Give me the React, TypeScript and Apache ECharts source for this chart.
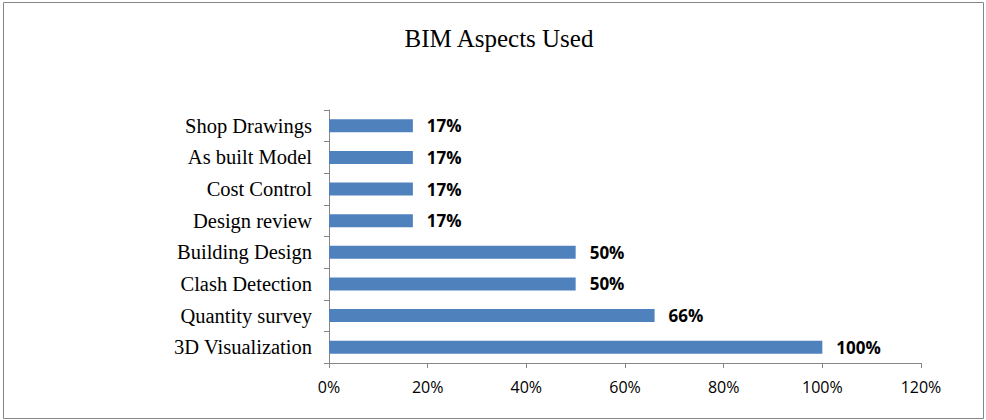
import React, { useEffect, useRef } from "react";
import * as echarts from "echarts";

const categories = [
  "3D Visualization",
  "Quantity survey",
  "Clash Detection",
  "Building Design",
  "Design review",
  "Cost Control",
  "As built Model",
  "Shop Drawings",
];
const values = [100, 66, 50, 50, 17, 17, 17, 17];
const xTicks = { min: 0, max: 120, interval: 20 };

export default function App() {
  const ref = useRef<HTMLDivElement>(null);
  useEffect(() => {
    if (!ref.current) return;
    const chart = echarts.init(ref.current, null, { renderer: "svg" });
    chart.setOption({
      animation: false,
      backgroundColor: "#ffffff",
      title: {
        text: "BIM Aspects Used",
        left: 494,
        textAlign: "center",
        top: 21,
        textStyle: {
          fontFamily: "Liberation Serif",
          fontSize: 25,
          fontWeight: "normal",
          color: "#000",
        },
      },
      graphic: [
        {
          type: "rect",
          shape: { x: 3.5, y: 2.5, width: 980, height: 416 },
          style: { fill: "none", stroke: "#868686", lineWidth: 1 },
          silent: true,
        },
      ],
      grid: { left: 329, right: 65, top: 110, bottom: 57 },
      xAxis: {
        type: "value",
        min: xTicks.min,
        max: xTicks.max,
        interval: xTicks.interval,
        axisLine: { show: true, lineStyle: { color: "#868686" } },
        axisTick: { show: true, length: 5, lineStyle: { color: "#868686" } },
        splitLine: { show: false },
        axisLabel: {
          formatter: "{value}%",
          fontFamily: "Open Sans",
          fontSize: 16,
          color: "#000",
          margin: 16,
        },
      },
      yAxis: {
        type: "category",
        data: categories,
        axisLine: { show: true, lineStyle: { color: "#868686" } },
        axisTick: { show: true, length: 5, lineStyle: { color: "#868686" } },
        axisLabel: {
          fontFamily: "Liberation Serif",
          fontSize: 20.5,
          color: "#000",
          margin: 17,
        },
      },
      series: [
        {
          type: "bar",
          data: values,
          barWidth: 13,
          itemStyle: { color: "#4f81bd" },
          label: {
            show: true,
            position: "right",
            distance: 14,
            formatter: "{c}%",
            fontFamily: "Open Sans",
            fontWeight: "bold",
            fontSize: 17,
            color: "#000",
          },
        },
      ],
    });
    return () => chart.dispose();
  }, []);
  return (
    <div
      ref={ref}
      style={{ position: "fixed", left: 0, top: 0, width: 986, height: 420 }}
    />
  );
}
